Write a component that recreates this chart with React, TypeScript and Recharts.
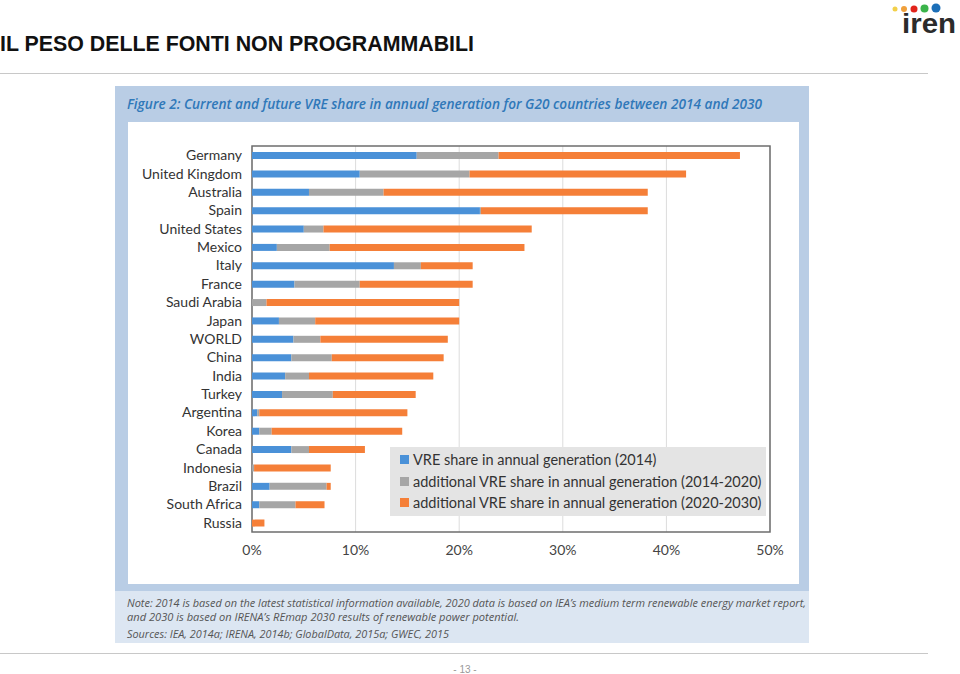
import React from "react";
import { Bar, BarChart, CartesianGrid, Legend, ReferenceArea, XAxis, YAxis } from "recharts";

const countries = [
  "Germany", "United Kingdom", "Australia", "Spain", "United States", "Mexico", "Italy",
  "France", "Saudi Arabia", "Japan", "WORLD", "China", "India", "Turkey", "Argentina",
  "Korea", "Canada", "Indonesia", "Brazil", "South Africa", "Russia",
];

// shares in % of annual generation
const share2014 = [15.9, 10.4, 5.5, 22.0, 5.0, 2.4, 13.7, 4.1, 0, 2.6, 4.0, 3.8, 3.2, 2.9, 0.5, 0.7, 3.8, 0, 1.7, 0.7, 0];
const add2020 = [7.9, 10.6, 7.2, 0.1, 1.9, 5.1, 2.6, 6.3, 1.4, 3.5, 2.6, 3.9, 2.3, 4.9, 0.2, 1.2, 1.7, 0.2, 5.5, 3.5, 0];
const add2030 = [23.3, 20.9, 25.5, 16.1, 20.1, 18.8, 5.0, 10.9, 18.6, 13.9, 12.3, 10.8, 12.0, 8.0, 14.3, 12.6, 5.4, 7.4, 0.4, 2.8, 1.2];

const xTicks = [0, 10, 20, 30, 40, 50];

const data = countries.map((c, i) => ({
  country: c,
  v2014: share2014[i],
  v2020: add2020[i],
  v2030: add2030[i],
}));

const FONT = "Lato, 'Open Sans', sans-serif";

function LegendBox(props: any) {
  const items = props.payload || [];
  return (
    <div
      style={{
        background: "#e4e4e4",
        width: 376,
        height: 69,
        boxSizing: "border-box",
        padding: "2px 0 0 10px",
        fontFamily: FONT,
        fontSize: 14.5,
        color: "#333",
      }}
    >
      {items.map((it: any) => (
        <div key={it.value} style={{ display: "flex", alignItems: "center", height: 21.5 }}>
          <span style={{ width: 9, height: 9, background: it.color, marginRight: 4, display: "inline-block" }} />
          <span>{it.value}</span>
        </div>
      ))}
    </div>
  );
}

export default function App() {
  return (
    <div style={{ position: "fixed", left: 0, top: 0, width: 960, height: 674, background: "#fff", overflow: "hidden" }}>
      <svg width={960} height={674} style={{ position: "absolute", left: 0, top: 0 }}>
        <text x={0} y={51} fontFamily="'Liberation Sans', Arial, sans-serif" fontWeight="bold" fontSize={22}
          textLength={474} lengthAdjust="spacingAndGlyphs" fill="#111">
          IL PESO DELLE FONTI NON PROGRAMMABILI
        </text>
        <line x1={0} y1={73.5} x2={928} y2={73.5} stroke="#c8c8c8" />
        <line x1={0} y1={653.5} x2={928} y2={653.5} stroke="#c8c8c8" />
        <text x={465} y={673} textAnchor="middle" fontFamily="'Liberation Sans', Arial, sans-serif" fontSize={10} fill="#999">
          - 13 -
        </text>
        {/* logo */}
        <circle cx={895} cy={9} r={2.5} fill="#f2d04a" />
        <circle cx={904} cy={9} r={3} fill="#f0a03c" />
        <circle cx={914} cy={9} r={3.5} fill="#e2231a" />
        <circle cx={924.5} cy={8.5} r={4} fill="#3bb44a" />
        <circle cx={936} cy={8} r={4.5} fill="#1c6fb8" />
        <text x={902} y={33} fontFamily="'Liberation Sans', Arial, sans-serif" fontWeight="bold" fontSize={28}
          textLength={54} lengthAdjust="spacingAndGlyphs" fill="#2b2b2b">
          iren
        </text>
        {/* figure panel */}
        <rect x={115} y={86} width={694} height={505} fill="#b9cde5" />
        <rect x={128} y={122} width={671} height={462} fill="#fff" />
        <rect x={115} y={591} width={694} height={52} fill="#dce6f2" />
        <text x={127} y={109} fontFamily="'Open Sans', sans-serif" fontStyle="italic" fontWeight={600} fontSize={15}
          textLength={635} lengthAdjust="spacingAndGlyphs" fill="#2f78b9">
          Figure 2: Current and future VRE share in annual generation for G20 countries between 2014 and 2030
        </text>
        <g fontFamily="'Open Sans', sans-serif" fontStyle="italic" fontSize={10.5} fill="#555">
          <text x={127} y={607} textLength={679} lengthAdjust="spacingAndGlyphs">
            Note: 2014 is based on the latest statistical information available, 2020 data is based on IEA’s medium term renewable energy market report,
          </text>
          <text x={127} y={620.5} textLength={392} lengthAdjust="spacingAndGlyphs">
            and 2030 is based on IRENA’s REmap 2030 results of renewable power potential.
          </text>
          <text x={127} y={638} textLength={322} lengthAdjust="spacingAndGlyphs">
            Sources: IEA, 2014a; IRENA, 2014b; GlobalData, 2015a; GWEC, 2015
          </text>
        </g>
      </svg>
      <div style={{ position: "absolute", left: 128, top: 122 }}>
        <BarChart
          width={671}
          height={462}
          data={data}
          layout="vertical"
          margin={{ top: 24, right: 29, bottom: 22, left: 0 }}
          barCategoryGap={0}
        >
          <CartesianGrid horizontal={false} stroke="#dcdcdc" />
          <XAxis
            type="number"
            domain={[0, 50]}
            ticks={xTicks}
            tickFormatter={(v) => `${v}%`}
            axisLine={false}
            tickLine={false}
            tickSize={0}
            tickMargin={13}
            height={30}
            tick={{ fill: "#444", fontSize: 14, fontFamily: FONT }}
          />
          <YAxis
            type="category"
            dataKey="country"
            width={124}
            axisLine={false}
            tickLine={false}
            tickSize={0}
            tickMargin={10}
            interval={0}
            tick={{ fill: "#333", fontSize: 14, fontFamily: FONT }}
          />
          <ReferenceArea x1={0} x2={50} fill="none" stroke="#6e6e6e" strokeWidth={1.5} ifOverflow="visible" />
          <Legend
            layout="vertical"
            align="center"
            verticalAlign="middle"
            content={<LegendBox />}
            wrapperStyle={{ position: "absolute", left: 262, top: 325, width: 376, height: 69 }}
          />
          <Bar dataKey="v2014" name="VRE share in annual generation (2014)" stackId="a" fill="#4a91d8" barSize={7} isAnimationActive={false} />
          <Bar dataKey="v2020" name="additional VRE share in annual generation (2014-2020)" stackId="a" fill="#a6a6a6" barSize={7} isAnimationActive={false} />
          <Bar dataKey="v2030" name="additional VRE share in annual generation (2020-2030)" stackId="a" fill="#f57f38" barSize={7} isAnimationActive={false} />
        </BarChart>
      </div>
    </div>
  );
}
